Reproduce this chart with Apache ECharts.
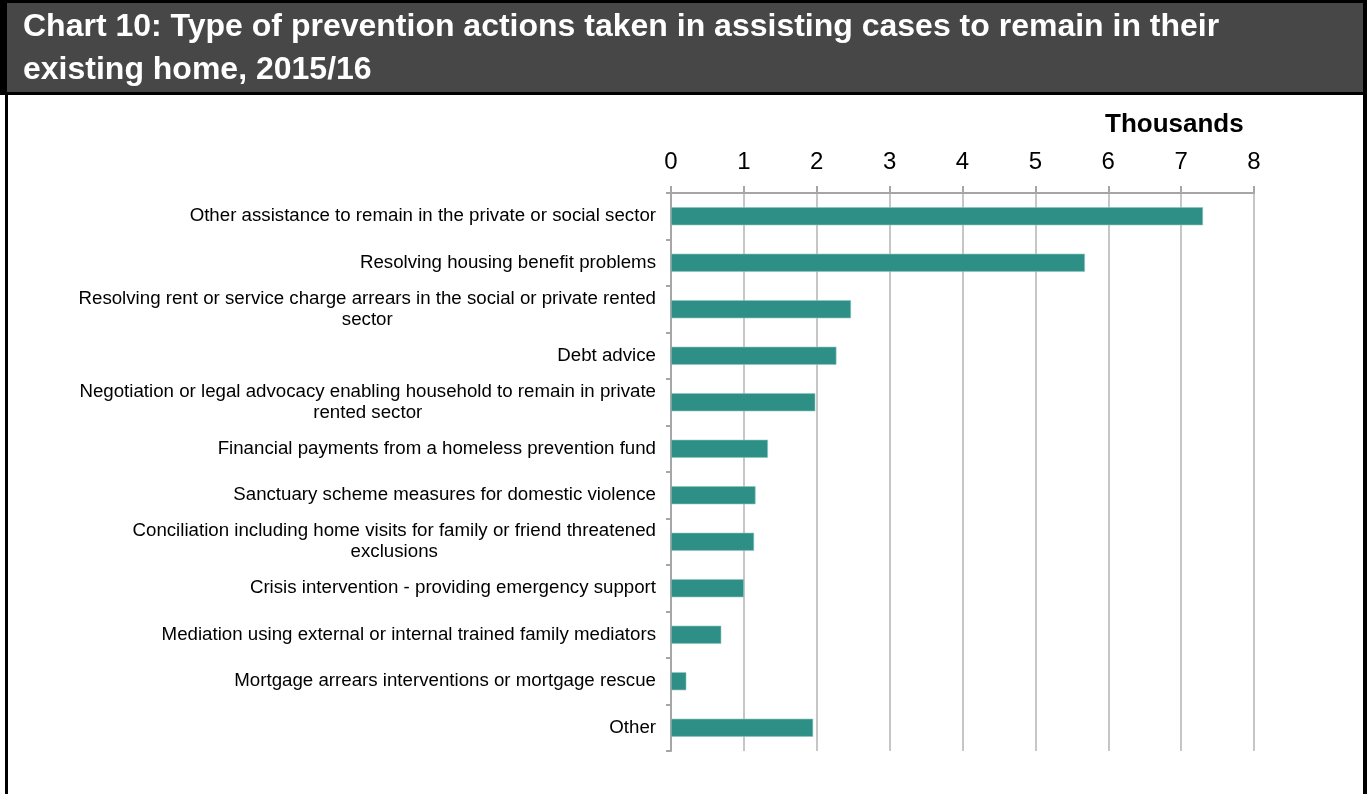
<!DOCTYPE html>
<html>
<head>
<meta charset="utf-8">
<script src="https://cdn.jsdelivr.net/npm/echarts@6/dist/echarts.min.js"></script>
<style>
html,body{margin:0;padding:0;background:#fff;}
#chart{position:absolute;left:0;top:0;width:1367px;height:794px;}
</style>
</head>
<body>
<div id="chart"></div>
<script>
const titleLines = [
  'Chart 10: Type of prevention actions taken in assisting cases to remain in their',
  'existing home, 2015/16'
];
const unitLabel = 'Thousands';
const categories = [
  'Other assistance to remain in the private or social sector',
  'Resolving housing benefit problems',
  'Resolving rent or service charge arrears in the social or private rented\nsector',
  'Debt advice',
  'Negotiation or legal advocacy enabling household to remain in private\nrented sector',
  'Financial payments from a homeless prevention fund',
  'Sanctuary scheme measures for domestic violence',
  'Conciliation including home visits for family or friend threatened\nexclusions',
  'Crisis intervention - providing emergency support',
  'Mediation using external or internal trained family mediators',
  'Mortgage arrears interventions or mortgage rescue',
  'Other'
];
const values = [7.30, 5.68, 2.47, 2.27, 1.98, 1.33, 1.16, 1.14, 1.00, 0.69, 0.21, 1.95];
const axisMin = 0, axisMax = 8, axisStep = 1;

const FONT = '"Liberation Sans", Arial, sans-serif';
const chart = echarts.init(document.getElementById('chart'), null, {renderer: 'canvas'});
chart.setOption({
  animation: false,
  backgroundColor: '#fff',
  title: {
    text: titleLines.join('\n'),
    left: 18, top: 1,
    textStyle: {color: '#fff', fontSize: 32, fontWeight: 'bold', fontFamily: FONT, lineHeight: 43}
  },
  graphic: [
    {type: 'rect', shape: {x: 0, y: 0, width: 1367, height: 95}, style: {fill: '#000'}, z: -10},
    {type: 'rect', shape: {x: 7, y: 3, width: 1356, height: 89}, style: {fill: '#474747'}, z: -9},
    {type: 'rect', shape: {x: 5, y: 95, width: 3, height: 699}, style: {fill: '#000'}, z: -9},
    {type: 'rect', shape: {x: 1363, y: 95, width: 4, height: 699}, style: {fill: '#000'}, z: -9},
    {type: 'text', left: 1105, top: 112, style: {text: unitLabel, font: 'bold 26px ' + FONT, fill: '#000'}}
  ],
  grid: {left: 671, right: 113, top: 193, bottom: 43, containLabel: false},
  xAxis: {
    type: 'value', position: 'top', min: axisMin, max: axisMax, interval: axisStep,
    axisLine: {show: true, lineStyle: {color: '#a6a6a6', width: 2}},
    axisTick: {show: true, length: 7, lineStyle: {color: '#a6a6a6', width: 2}},
    axisLabel: {color: '#000', fontSize: 24, fontFamily: FONT, margin: 19},
    splitLine: {show: true, lineStyle: {color: '#b3b3b3', width: 1.5}}
  },
  yAxis: {
    type: 'category', data: categories, inverse: true,
    axisLine: {show: true, lineStyle: {color: '#a6a6a6', width: 2}},
    axisTick: {show: true, length: 5, lineStyle: {color: '#a6a6a6', width: 2}},
    axisLabel: {
      color: '#000', fontSize: 18.7, fontFamily: FONT, margin: 15, lineHeight: 21,
      formatter: v => v.split('\n').map(l => '{c|' + l + '}').join('\n'),
      rich: {c: {align: 'center', fontSize: 18.7, fontFamily: FONT, color: '#000', lineHeight: 21}}
    },
    splitLine: {show: false}
  },
  series: [{
    type: 'bar', data: values, barWidth: 18,
    itemStyle: {color: '#2e8f86', borderColor: '#8cc4be', borderWidth: 0.6}
  }]
});
</script>
</body>
</html>
